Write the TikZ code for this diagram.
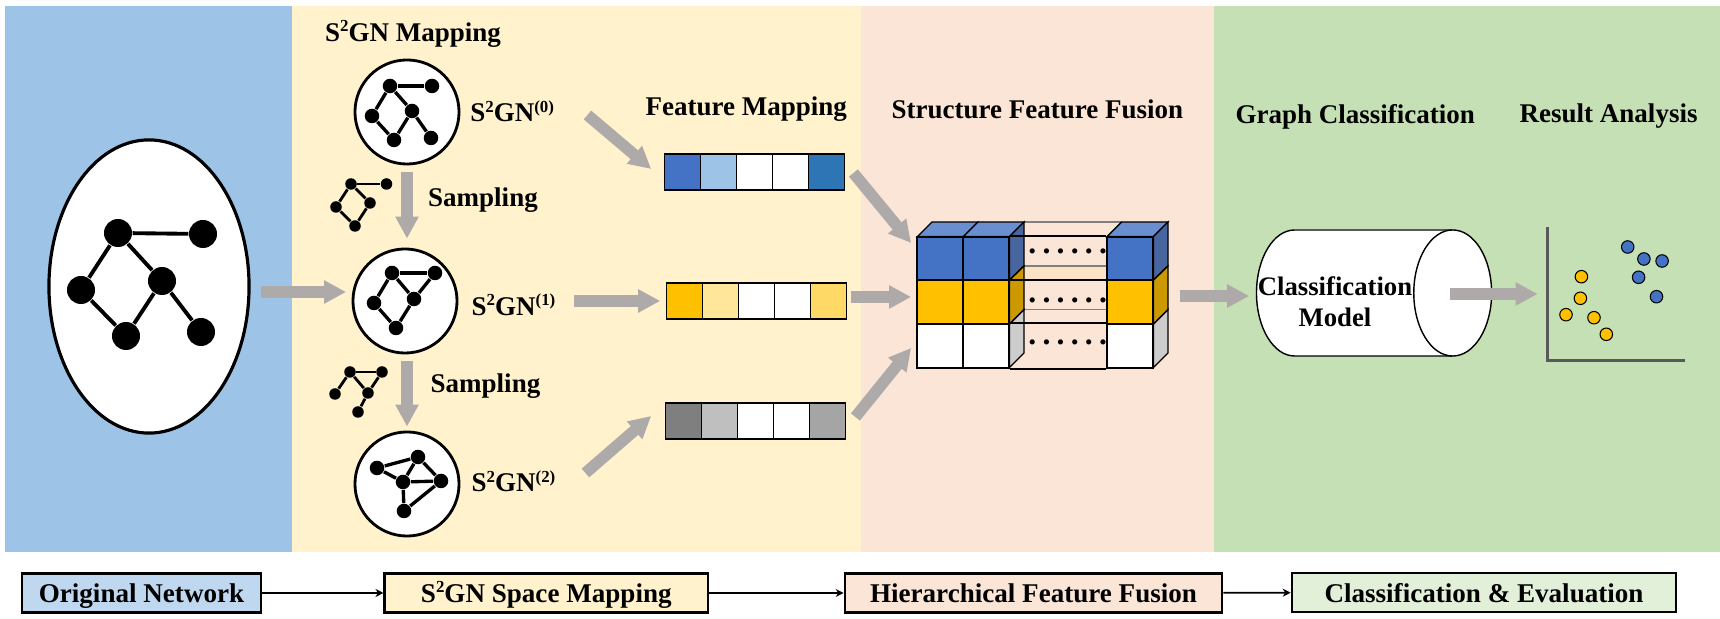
\documentclass[tikz,border=0pt]{standalone}
\usepackage{fontspec}
\setmainfont{Liberation Serif}
\usepackage{xcolor}
\usetikzlibrary{arrows.meta,positioning,shapes.geometric}

\definecolor{panelA}{HTML}{9DC3E6}
\definecolor{panelB}{HTML}{FFF2CC}
\definecolor{panelC}{HTML}{FBE5D6}
\definecolor{panelD}{HTML}{C5E0B4}
\definecolor{flowgray}{HTML}{AEAAAA}
\definecolor{blueA}{HTML}{4472C4}
\definecolor{blueB}{HTML}{9DC3E6}
\definecolor{blueC}{HTML}{2E75B6}
\definecolor{yelA}{HTML}{FFC000}
\definecolor{yelB}{HTML}{FFE699}
\definecolor{yelC}{HTML}{FFD966}
\definecolor{greyA}{HTML}{7F7F7F}
\definecolor{greyB}{HTML}{BFBFBF}
\definecolor{greyC}{HTML}{A5A5A5}
\definecolor{topblue}{HTML}{6A8FD0}
\definecolor{sideblue}{HTML}{34589A}
\definecolor{sideyel}{HTML}{CC9A00}
\definecolor{sidegrey}{HTML}{CCCCCC}
\definecolor{stripe}{HTML}{FBE3C4}
\definecolor{axisgray}{HTML}{595959}

\newcommand{\supr}[1]{\raisebox{.36em}{\fontsize{4.8}{5}\selectfont #1}}

\begin{document}
\begin{tikzpicture}[
  x=0.01cm, y=-0.01cm,
  >=Stealth,
  lab/.style={anchor=base west, inner sep=0pt, font=\fontsize{7.68}{9}\selectfont\bfseries},
  bigdot/.style={circle, fill=black, inner sep=0pt, minimum size=2.8mm},
  dot/.style={circle, fill=black, inner sep=0pt, minimum size=1.45mm},
  tiny/.style={circle, fill=black, inner sep=0pt, minimum size=1.15mm},
  link/.style={line width=0.95pt},
  disc/.style={circle, draw, fill=white, line width=0.8pt, inner sep=0pt, minimum size=10.4mm},
  cell/.style={rectangle, draw, line width=0.45pt, inner sep=0pt, minimum size=3.6mm},
  cube/.style={rectangle, draw, line width=0.5pt, inner sep=0pt, minimum width=4.6mm, minimum height=4.35mm},
  face/.style={draw, line width=0.4pt},
  flow/.style={-{Triangle[length=2.2mm,width=2.2mm]}, line width=1.15mm, flowgray},
  stagebox/.style={rectangle, draw, line width=0.7pt, inner sep=0pt, minimum height=3.9mm,
                   text height=2.5mm, text depth=0.55mm,
                   font=\fontsize{7.7}{9}\selectfont\bfseries},
  pt/.style={circle, draw, line width=0.3pt, inner sep=0pt, minimum size=1.25mm},
]

\useasboundingbox (0,0) rectangle (1720,619);

% Coloured stage panels
\fill[panelA] (5,6) rectangle (292,552);
\fill[panelB] (292,6) rectangle (861,552);
\fill[panelC] (861,6) rectangle (1213.5,552);
\fill[panelD] (1213.5,6) rectangle (1720,552);

% Original network
\node[ellipse, draw, fill=white, line width=0.9pt, inner sep=0pt,
      minimum width=20mm, minimum height=29.3mm] (net) at (149,286.5) {};
\foreach \n/\x/\y in {a/118/233,b/203/234,c/81/290,d/162/281,e/126/336,f/201/332}
  \node[bigdot] (N\n) at (\x,\y) {};
\foreach \p/\q in {a/b,a/c,a/d,c/e,d/e,d/f} {\draw[link, line width=1.1pt] (N\p) -- (N\q);}

% Mapped graphs
\node[disc] (m0) at (407,112) {};
\node[disc] (m1) at (405,301) {};
\node[disc] (m2) at (407,484) {};
\foreach \n/\x/\y in {a/390/86,b/432/86,c/372/116,d/412/111,e/394/140,f/431/138}
  \node[dot] (A\n) at (\x,\y) {};
\foreach \p/\q in {a/b,a/c,a/d,c/e,d/e,d/f} {\draw[link] (A\p) -- (A\q);}
\foreach \n/\x/\y in {a/392/273,b/435/273,c/374/303,d/414/299,e/396/328}
  \node[dot] (B\n) at (\x,\y) {};
\foreach \p/\q in {a/b,a/c,a/d,b/d,c/e,d/e} {\draw[link] (B\p) -- (B\q);}
\foreach \n/\x/\y in {a/377/468,b/418/457,c/441/481,d/403/482,e/404/511}
  \node[dot] (C\n) at (\x,\y) {};
\foreach \p/\q in {a/b,a/d,b/d,b/c,d/c,d/e,c/e} {\draw[link] (C\p) -- (C\q);}

% Sampled graphs
\foreach \n/\x/\y in {a/351/184,b/386.5/184,c/336/207,d/370/203,e/355/226}
  \node[tiny] (S\n) at (\x,\y) {};
\foreach \p/\q in {a/b,a/c,a/d,c/e,d/e} {\draw[link, line width=0.8pt] (S\p) -- (S\q);}
\foreach \n/\x/\y in {a/350/372,b/382/372,c/335/394,d/368/393,e/358/412}
  \node[tiny] (T\n) at (\x,\y) {};
\foreach \p/\q in {a/b,a/c,a/d,b/d,d/e} {\draw[link, line width=0.8pt] (T\p) -- (T\q);}

% Feature rows
\foreach \i/\c in {0/blueA,1/blueB,2/white,3/white,4/blueC}
  \node[cell, fill=\c] (ra\i) at ({682.3+36*\i},172) {};
\foreach \i/\c in {0/yelA,1/yelB,2/white,3/white,4/yelC}
  \node[cell, fill=\c] (rb\i) at ({684.3+36*\i},301) {};
\foreach \i/\c in {0/greyA,1/greyB,2/white,3/white,4/greyC}
  \node[cell, fill=\c] (rc\i) at ({683.3+36*\i},421) {};

% Fusion stack, back faces first
\fill[stripe] (1024,266) rectangle (1107,280.3);
\draw[face, gray] (1024,222) -- (1121.5,222);
\draw[face, gray] (1024,266) -- (1107,266);
\draw[face, gray] (1024,309.7) -- (1107,309.7);
\foreach \x in {917.3,963.3}
  {\draw[face, fill=topblue] (\x,236.7) -- ++(14.7,-14.7) -- ++(46,0) -- ++(-14.7,14.7) -- cycle;}
\draw[face, fill=topblue] (1107,236.7) -- ++(14.7,-14.7) -- ++(46.3,0) -- ++(-14.7,14.7) -- cycle;
\foreach \x in {1009.3,1153.3} {
  \draw[face, fill=sideblue, fill opacity=0.9] (\x,236.7) -- ++(14.7,-14.7) -- ++(0,44) -- ++(-14.7,14.3) -- cycle;
  \draw[face, fill=sideyel] (\x,280.3) -- ++(14.7,-14.3) -- ++(0,43.7) -- ++(-14.7,14.6) -- cycle;
  \draw[face, fill=sidegrey] (\x,324.3) -- ++(14.7,-14.6) -- ++(0,43.3) -- ++(-14.7,14.7) -- cycle;
}
\foreach \col/\x in {a/940.3,b/986.3,c/1130} {
  \node[cube, fill=blueA] (s\col0) at (\x,258.5) {};
  \node[cube, fill=yelA] (s\col1) at (\x,302.3) {};
  \node[cube, fill=white] (s\col2) at (\x,346) {};
}
\draw[face, line width=0.5pt] (sb0.north east) -- (sc0.north west);
\draw[face, line width=0.5pt] (sb1.north east) -- (sc1.north west);
\draw[face, line width=0.5pt] (sb2.north east) -- (sc2.north west);
\draw[face, line width=0.5pt] (sb2.south east) -- (sc2.south west);
\foreach \y in {249.7,298,340.7}
  {\node[inner sep=0pt, font=\fontsize{9}{9}\selectfont\bfseries] at (1067.7,\y+2)
    {.\hspace{.062cm}.\hspace{.062cm}.\hspace{.062cm}.\hspace{.062cm}.\hspace{.062cm}.};}

% Classification model
\draw[fill=white, line width=0.4pt] (1452.7,230) -- (1294.5,230)
  arc[start angle=270, end angle=90, x radius=38, y radius=63] -- (1452.7,356);
\draw[axisgray, line width=0.6pt] (1294.5,230) -- (1452.7,230);
\node[ellipse, draw, fill=white, line width=0.4pt, inner sep=0pt,
      minimum width=7.78mm, minimum height=12.6mm] (modelend) at (1452.7,293) {};
\node[inner sep=0pt, minimum width=23.5mm] (modelbody) at (1374,293) {};
\node[inner sep=0pt, align=center, font=\fontsize{7.6}{8.8}\selectfont\bfseries] (modeltxt) at (1335,302)
  {Classification\\Model};

% Result plot
\coordinate (axtop) at (1547.4,226.7);
\coordinate (axorg) at (1547.4,360.7);
\coordinate (axend) at (1685,360.7);
\draw[axisgray, line width=1pt] (axtop) -- (axorg) -- (axend);
\foreach \x/\y in {1627.7/247,1643.9/259,1662.1/261,1638.6/277.3,1656.5/296.7}
  {\node[pt, fill=blueA] at (\x,\y) {};}
\foreach \x/\y in {1581.4/276.7,1580.4/298.3,1566/314.7,1594/317.7,1606.3/334.3}
  {\node[pt, fill=yelA] at (\x,\y) {};}

% Flow arrows
\draw[flow] ([shift={(10.5,5.5)}]net.east) -- ([shift={(-5.5,-9)}]m1.west);
\draw[flow] ([shift={(0,7)}]m0.south) -- ([shift={(2,-9)}]m1.north);
\draw[flow] ([shift={(2,7)}]m1.south) -- ([shift={(0,-4)}]m2.north);
\draw[flow] ([shift={(127,3)}]m0.east) -- ([shift={(-12.3,-3)}]ra0.west);
\draw[flow] ([shift={(116,0)}]m1.east) -- ([shift={(-5.3,0)}]rb0.west);
\draw[flow] ([shift={(125,-11)}]m2.east) -- ([shift={(-13.3,-5)}]rc0.west);
\draw[flow] ([shift={(8.3,1)}]ra4.east) -- ([shift={(-5.3,-15.5)}]sa0.west);
\draw[flow] ([shift={(4.3,-4)}]rb4.east) -- ([shift={(-5.3,-5.3)}]sa1.west);
\draw[flow] ([shift={(9.3,-4)}]rc4.east) -- ([shift={(-5.3,2)}]sa2.west);
\draw[flow] ([shift={(25.8,-6.3)}]sc1.east) -- ([shift={(-6.6,3)}]modelbody.west);
\draw[flow] ([shift={(-42.8,1)}]modelend.east) -- ([shift={(-9.8,-66.7)}]axorg);

% Stage headings
\node[lab] (hmap) at (324.5,41.5) {S\supr{2}GN Mapping};
\node[lab] (h0) at (469.6,122) {S\supr{2}GN\supr{(0)}};
\node[lab] (h1) at (471,315.5) {S\supr{2}GN\supr{(1)}};
\node[lab] (h2) at (471,492) {S\supr{2}GN\supr{(2)}};
\node[lab] (samp0) at (427.5,206.5) {Sampling};
\node[lab] (samp1) at (430,392.5) {Sampling};
\node[lab] (hfeat) at (645,116) {Feature Mapping};
\node[lab] (hfuse) at (891,119) {Structure Feature Fusion};
\node[lab] (hgraph) at (1234.9,124) {Graph Classification};
\node[lab] (hres) at (1519,123) {Result Analysis};

% Pipeline boxes
\node[stagebox, fill=panelA!65!white, minimum width=23.9mm] (b1) at (141.5,593) {Original Network};
\node[stagebox, fill=panelB, minimum width=32.3mm] (b2) at (546.3,593) {S\supr{2}GN Space Mapping};
\node[stagebox, fill=panelC, minimum width=37.7mm] (b3) at (1033.5,593) {Hierarchical Feature Fusion};
\node[stagebox, fill=panelD!50!white, minimum width=38.4mm] (b4) at (1484,592.5) {Classification \& Evaluation};
\draw[-{Stealth[length=0.8mm,width=0.8mm]}, line width=0.45pt] (b1) -- (b2);
\draw[-{Stealth[length=0.8mm,width=0.8mm]}, line width=0.45pt] (b2) -- (b3);
\draw[-{Stealth[length=0.8mm,width=0.8mm]}, line width=0.45pt] (b3) -- (b4);

\end{tikzpicture}
\end{document}
